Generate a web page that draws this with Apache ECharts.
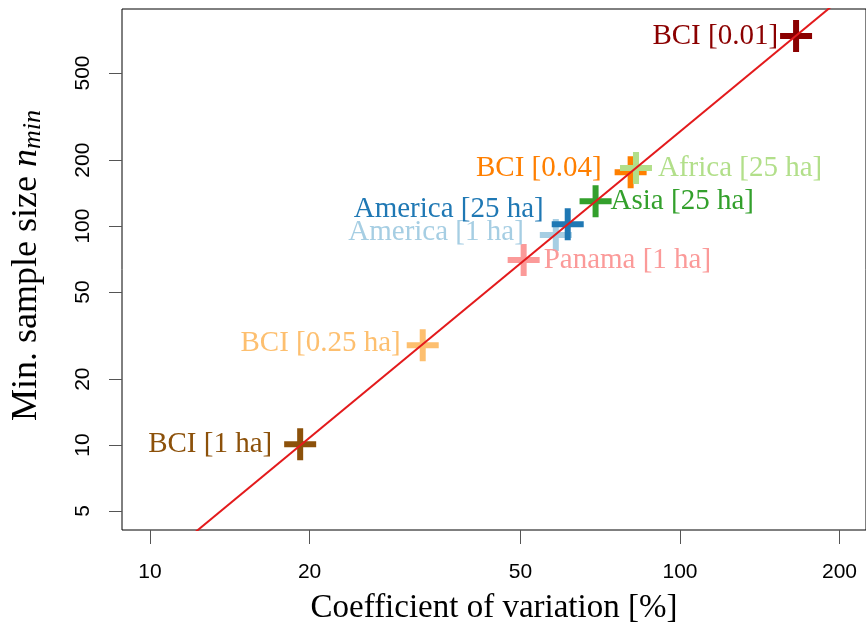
<!DOCTYPE html>
<html>
<head>
<meta charset="utf-8">
<script src="https://cdn.jsdelivr.net/npm/echarts@6/dist/echarts.min.js"></script>
<style>html,body{margin:0;padding:0;background:#fff;}#chart{width:866px;height:631px;}</style>
</head>
<body>
<div id="chart"></div>
<script>
// ---- data ----
const categories = ['BCI [0.01]', 'BCI [0.04]', 'Africa [25 ha]', 'Asia [25 ha]', 'America [1 ha]', 'America [25 ha]', 'Panama [1 ha]', 'BCI [0.25 ha]', 'BCI [1 ha]'];
const cvValues = [165.6, 80.7, 82.6, 69.3, 58.3, 61.4, 50.7, 32.7, 19.2];
const nValues = [738, 176, 184, 130, 91, 102, 70, 28.6, 10.1];
const fitLineCV = [8, 240];
const fitLineN = [1.73, 1555];
const xTicks = [10, 20, 50, 100, 200];
const yTicks = [5, 10, 20, 50, 100, 200, 500];

// ---- styles ----
const colors = ['#8b0000', '#ff7f00', '#b2df8a', '#33a02c', '#a6cee3', '#1f78b4', '#fb9a99', '#fdbf6f', '#8c510a'];
const labelPlacement = {
  'BCI [0.01]': { position: 'left', distance: 2, offset: [0, 0] },
  'BCI [0.04]': { position: 'left', distance: 13, offset: [0, -4] },
  'Africa [25 ha]': { position: 'right', distance: 6, offset: [0, 0] },
  'Asia [25 ha]': { position: 'right', distance: -1, offset: [0, 0] },
  'America [25 ha]': { position: 'left', distance: 8, offset: [0, -15] },
  'America [1 ha]': { position: 'left', distance: 16, offset: [0, -3] },
  'Panama [1 ha]': { position: 'right', distance: 4, offset: [0, 0] },
  'BCI [0.25 ha]': { position: 'left', distance: 6, offset: [0, -2] },
  'BCI [1 ha]': { position: 'left', distance: 12, offset: [0, 0] }
};
const plusPath = 'path://M13,0H19V13H32V19H19V32H13V19H0V13H13Z';
const serif = '"Liberation Serif", "Times New Roman", serif';
const sans = '"Liberation Sans", Arial, sans-serif';

const pointData = categories.map((name, i) => {
  const p = labelPlacement[name];
  return {
    name: name,
    value: [cvValues[i], nValues[i]],
    itemStyle: { color: colors[i], opacity: 1 },
    label: {
      show: true,
      formatter: name,
      position: p.position,
      distance: p.distance,
      offset: p.offset,
      color: colors[i],
      opacity: 1,
      fontFamily: serif,
      fontSize: 29
    }
  };
});

const chart = echarts.init(document.getElementById('chart'), null, { renderer: 'canvas' });
chart.setOption({
  animation: false,
  backgroundColor: '#ffffff',
  grid: {
    left: 122, top: 9, right: 0, bottom: 101,
    show: true, borderColor: '#000', borderWidth: 1, backgroundColor: 'transparent'
  },
  xAxis: {
    type: 'log',
    logBase: 10,
    min: 8.853,
    max: 224.4,
    name: 'Coefficient of variation [%]',
    nameLocation: 'middle',
    nameGap: 62,
    nameTextStyle: { fontFamily: serif, fontSize: 33, color: '#000' },
    axisLine: { show: false },
    splitLine: { show: false },
    minorTick: { show: false },
    axisTick: { show: true, inside: false, length: 14, customValues: xTicks, lineStyle: { color: '#555', width: 1 } },
    axisLabel: { customValues: xTicks, margin: 32, fontFamily: sans, fontSize: 21, color: '#000' }
  },
  yAxis: {
    type: 'log',
    logBase: 10,
    min: 4.096,
    max: 980,
    name: '{t|Min. sample size }{n|n}{s|min}',
    nameLocation: 'middle',
    nameGap: 76,
    nameRotate: 90,
    nameTextStyle: {
      color: '#000',
      padding: [0, 0, 0, 8],
      rich: {
        t: { fontFamily: serif, fontSize: 36, color: '#000' },
        n: { fontFamily: serif, fontSize: 36, fontStyle: 'italic', color: '#000' },
        s: { fontFamily: serif, fontSize: 26, fontStyle: 'italic', color: '#000', padding: [12, 0, 0, 0] }
      }
    },
    axisLine: { show: false },
    splitLine: { show: false },
    minorTick: { show: false },
    axisTick: { show: true, inside: false, length: 13, customValues: yTicks, lineStyle: { color: '#555', width: 1 } },
    axisLabel: { customValues: yTicks, rotate: 90, margin: 28, fontFamily: sans, fontSize: 21, color: '#000' }
  },
  series: [
    {
      type: 'scatter',
      symbol: plusPath,
      symbolSize: 32,
      itemStyle: { opacity: 1 },
      emphasis: { disabled: true },
      data: pointData,
      z: 2
    },
    {
      type: 'line',
      data: fitLineCV.map((x, i) => [x, fitLineN[i]]),
      showSymbol: false,
      symbol: 'none',
      lineStyle: { color: '#e31a1c', width: 2 },
      clip: true,
      z: 3,
      silent: true
    }
  ]
});
</script>
</body>
</html>
